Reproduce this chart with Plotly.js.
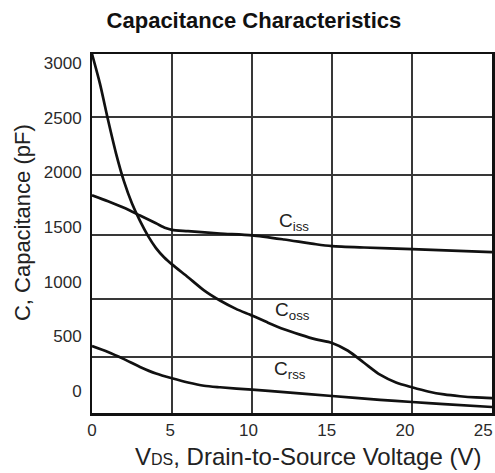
<!DOCTYPE html>
<html>
<head>
<meta charset="utf-8">
<script src="https://cdn.plot.ly/plotly-3.0.1.min.js"></script>
<style>html,body{margin:0;padding:0;background:#fff;}#chart{width:495px;height:473px;}</style>
</head>
<body>
<div id="chart"></div>
<script>
// Drain-to-source voltage (V) and capacitances (pF)
var cissV = [0, 1, 2, 3, 4, 4.6, 5, 6, 8, 10, 12, 14, 15, 17, 20, 25];
var cissC = [1820, 1770, 1715, 1650, 1585, 1545, 1530, 1520, 1500, 1485, 1450, 1410, 1395, 1383, 1370, 1345];

var cossV = [0, 0.5, 1, 1.5, 2, 2.5, 3, 3.5, 4, 4.5, 5, 6, 7, 8, 9, 10, 11, 12, 13, 14, 15, 16, 17, 18, 19, 20, 21, 22, 23, 24, 25];
var cossC = [3000, 2750, 2450, 2170, 1935, 1750, 1605, 1480, 1378, 1302, 1242, 1135, 1025, 940, 870, 815, 755, 700, 655, 615, 585, 520, 420, 320, 255, 215, 180, 155, 140, 130, 125];

var crssV = [0, 1, 2, 3, 4, 5, 6, 7, 8, 10, 12, 15, 18, 20, 22, 25];
var crssC = [560, 510, 450, 385, 330, 290, 255, 228, 215, 195, 175, 142, 110, 92, 75, 50];

var xTicks = [0, 5, 10, 15, 20, 25];
var yTicks = [0, 500, 1000, 1500, 2000, 2500, 3000];
var seriesNames = ['C<sub>iss</sub>', 'C<sub>oss</sub>', 'C<sub>rss</sub>'];

var FONT = 'Arial, "Liberation Sans", sans-serif';
var lineStyle = {color: '#111', width: 2.7, shape: 'spline', smoothing: 0.7};

var traces = [
  {x: cissV, y: cissC, mode: 'lines', line: lineStyle, hoverinfo: 'skip', showlegend: false},
  {x: cossV, y: cossC, mode: 'lines', line: lineStyle, hoverinfo: 'skip', showlegend: false},
  {x: crssV, y: crssC, mode: 'lines', line: lineStyle, hoverinfo: 'skip', showlegend: false},
  // invisible trace that activates the tick-label axes
  {x: [0], y: [0], xaxis: 'x2', yaxis: 'y2', mode: 'markers', marker: {opacity: 0}, hoverinfo: 'skip', showlegend: false}
];

var tickFont = {family: FONT, size: 17, color: '#2a2a2a'};

var layout = {
  width: 495, height: 473,
  margin: {l: 92, r: 3, t: 54, b: 60},
  paper_bgcolor: '#fff', plot_bgcolor: '#fff',
  font: {family: FONT, color: '#222'},
  title: {
    text: '<b>Capacitance Characteristics</b>',
    font: {family: FONT, size: 22, color: '#111'},
    xref: 'container', x: 0.513, xanchor: 'center',
    yref: 'container', y: 0.958, yanchor: 'middle'
  },
  xaxis: {
    range: [0, 25], tickvals: xTicks, showticklabels: false,
    showgrid: true, gridcolor: '#383838', gridwidth: 2,
    zeroline: false,
    showline: true, linecolor: '#111', linewidth: 2.5, mirror: true,
    ticks: ''
  },
  xaxis2: {
    overlaying: 'x', side: 'bottom', anchor: 'y',
    range: [0, 25.56], tickvals: xTicks,
    showgrid: false, zeroline: false, showline: false,
    ticks: 'outside', ticklen: 2, tickcolor: 'rgba(0,0,0,0)',
    tickfont: tickFont
  },
  yaxis: {
    range: [0, 3000],
    tickvals: [468, 953, 1488, 1989, 2474],
    showticklabels: false,
    showgrid: true, gridcolor: '#383838', gridwidth: 2,
    zeroline: false,
    showline: true, linecolor: '#111', linewidth: 2.5, mirror: true,
    ticks: ''
  },
  yaxis2: {
    overlaying: 'y', side: 'left', anchor: 'x',
    range: [-201, 3082],
    tickvals: yTicks,
    showgrid: false, zeroline: false, showline: false,
    ticks: 'outside', ticklen: 6, tickcolor: 'rgba(0,0,0,0)',
    tickfont: tickFont
  },
  annotations: [
    {text: 'V<span style="font-size:16px">DS</span>, Drain-to-Source Voltage (V)',
     xref: 'paper', yref: 'paper', x: 0.54, y: -0.122, xanchor: 'center', yanchor: 'middle',
     showarrow: false, font: {family: FONT, size: 24, color: '#222'}},
    {text: 'C, Capacitance (pF)', textangle: -90,
     xref: 'paper', yref: 'paper', x: -0.175, y: 0.529, xanchor: 'center', yanchor: 'middle',
     showarrow: false, font: {family: FONT, size: 22, color: '#222'}},
    {text: seriesNames[0], x: 12.6, y: 1596, xref: 'x', yref: 'y', showarrow: false,
     font: {family: FONT, size: 19, color: '#222'}},
    {text: seriesNames[1], x: 12.5, y: 852, xref: 'x', yref: 'y', showarrow: false,
     font: {family: FONT, size: 19, color: '#222'}},
    {text: seriesNames[2], x: 12.4, y: 359, xref: 'x', yref: 'y', showarrow: false,
     font: {family: FONT, size: 19, color: '#222'}}
  ]
};

Plotly.newPlot('chart', traces, layout, {staticPlot: true, displayModeBar: false});
</script>
</body>
</html>
